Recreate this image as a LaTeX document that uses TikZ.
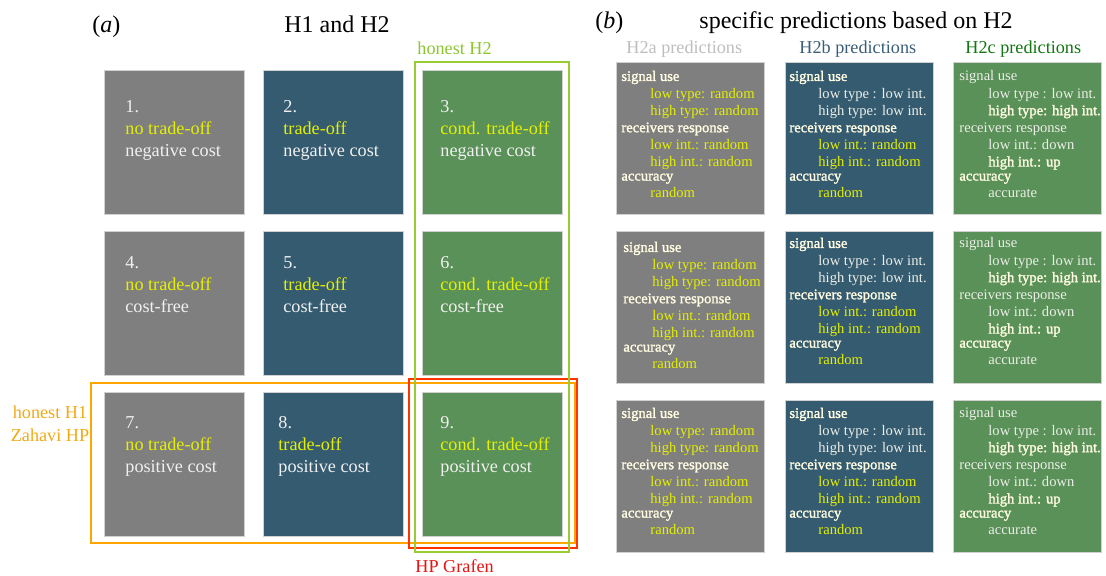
\documentclass[tikz,border=0pt]{standalone}
\usepackage{fontspec}
\setmainfont{Liberation Serif}
\newfontfamily\hb{Liberation Serif}[FakeBold=1.6]

\definecolor{cellgray}{RGB}{127,127,127}
\definecolor{cellblue}{RGB}{53,91,112}
\definecolor{cellgreen}{RGB}{90,145,88}
\definecolor{hlyellow}{RGB}{228,240,0}
\definecolor{cream}{RGB}{255,252,225}
\definecolor{lighttxt}{RGB}{236,238,232}
\definecolor{frgreen}{RGB}{153,204,51}
\definecolor{frorange}{RGB}{255,165,0}
\definecolor{frred}{RGB}{255,51,0}
\definecolor{lbgreen}{RGB}{140,198,50}
\definecolor{lborange}{RGB}{240,170,20}
\definecolor{lbred}{RGB}{232,20,20}
\definecolor{hdgray}{RGB}{190,190,190}
\definecolor{hdblue}{RGB}{58,94,118}
\definecolor{hdgreen}{RGB}{18,118,18}

\newcommand{\predind}{\hspace*{14.5pt}}
\newcommand{\predA}{%
\textcolor{cream}{\hb signal use}\\
\predind\textcolor{hlyellow}{low type: random}\\
\predind\textcolor{hlyellow}{high type: random}\\
\textcolor{cream}{\hb receivers response}\\
\predind\textcolor{hlyellow}{low int.: random}\\
\predind\textcolor{hlyellow}{high int.: random}\\[-1.5pt]
\textcolor{cream}{\hb accuracy}\\
\predind\textcolor{hlyellow}{random}}
\newcommand{\predB}{%
\textcolor{cream}{\hb signal use}\\
\predind\textcolor{lighttxt}{low type : low int.}\\
\predind\textcolor{lighttxt}{high type: low int.}\\
\textcolor{cream}{\hb receivers response}\\
\predind\textcolor{hlyellow}{low int.: random}\\
\predind\textcolor{hlyellow}{high int.: random}\\[-1.5pt]
\textcolor{cream}{\hb accuracy}\\
\predind\textcolor{hlyellow}{random}}
\newcommand{\predC}{%
\textcolor{lighttxt}{signal use}\\
\predind\textcolor{lighttxt}{low type : low int.}\\
\predind\textcolor{cream}{\hb high type: high int.}\\
\textcolor{lighttxt}{receivers response}\\
\predind\textcolor{lighttxt}{low int.: down}\\
\predind\textcolor{cream}{\hb high int.: up}\\[-1.5pt]
\textcolor{cream}{\hb accuracy}\\
\predind\textcolor{lighttxt}{accurate}}

\begin{document}
\begin{tikzpicture}[x=0.5pt, y=-0.5pt,
    cell/.style={anchor=north west, minimum width=70pt, minimum height=72pt, inner sep=0pt, draw=black!18, line width=0.3pt},
    predbox/.style={anchor=north west, minimum width=74pt, minimum height=76pt, inner sep=0pt, draw=black!18, line width=0.3pt},
    celltext/.style={anchor=north west, inner sep=0pt, align=left, text=white!94!black, font=\fontsize{9.1}{11}\selectfont},
    predtext/.style={anchor=north west, inner sep=0pt, align=left, font=\fontsize{7.3}{8.55}\selectfont},
    frame/.style={line width=1pt},
    lab/.style={anchor=base west, inner sep=0pt, font=\fontsize{9.1}{11.5}\selectfont}]
    \useasboundingbox (0,0) rectangle (1106,575);

    \node[anchor=base west, inner sep=0pt, font=\fontsize{12}{14}\selectfont] (pa) at (92,32) {(\textit{a})};
    \node[anchor=base, inner sep=0pt, font=\fontsize{12}{14}\selectfont] (ta) at (337,32) {H1 and H2};
    \node[anchor=base west, inner sep=0pt, font=\fontsize{12}{14}\selectfont] (pb) at (595,28) {(\textit{b})};
    \node[anchor=base west, inner sep=0pt, font=\fontsize{12}{14}\selectfont] (tb) at (699,28) {specific predictions based on H2};

    \node[cell, fill=cellgray] (c1) at (104,70) {};
    \node[cell, fill=cellblue] (c2) at (263,70) {};
    \node[cell, fill=cellgreen] (c3) at (422,70) {};
    \node[cell, fill=cellgray] (c4) at (104,231) {};
    \node[cell, fill=cellblue] (c5) at (263,231) {};
    \node[cell, fill=cellgreen] (c6) at (422,231) {};
    \node[cell, fill=cellgray] (c7) at (104,392) {};
    \node[cell, fill=cellblue] (c8) at (263,392) {};
    \node[cell, fill=cellgreen] (c9) at (422,392) {};

    \node[celltext] (t1) at ([shift={(21,30)}]c1.north west) {1.\\\textcolor{hlyellow}{no trade-off}\\negative cost};
    \node[celltext] (t2) at ([shift={(20,30)}]c2.north west) {2.\\\textcolor{hlyellow}{trade-off}\\negative cost};
    \node[celltext] (t3) at ([shift={(18,30)}]c3.north west) {3.\\\textcolor{hlyellow}{cond. trade-off}\\negative cost};
    \node[celltext] (t4) at ([shift={(21,25)}]c4.north west) {4.\\\textcolor{hlyellow}{no trade-off}\\cost-free};
    \node[celltext] (t5) at ([shift={(20,25)}]c5.north west) {5.\\\textcolor{hlyellow}{trade-off}\\cost-free};
    \node[celltext] (t6) at ([shift={(18,25)}]c6.north west) {6.\\\textcolor{hlyellow}{cond. trade-off}\\cost-free};
    \node[celltext] (t7) at ([shift={(21,24)}]c7.north west) {7.\\\textcolor{hlyellow}{no trade-off}\\positive cost};
    \node[celltext] (t8) at ([shift={(15,24)}]c8.north west) {8.\\\textcolor{hlyellow}{trade-off}\\positive cost};
    \node[celltext] (t9) at ([shift={(18,24)}]c9.north west) {9.\\\textcolor{hlyellow}{cond. trade-off}\\positive cost};

    \draw[frame, frorange] (91,383) rectangle (575,543);
    \draw[frame, frred] (409,379) rectangle (577,548);
    \draw[frame, frgreen] (415,62) rectangle (569,552);

    \node[lab, text=lbgreen] (h2) at (417,54) {honest H2};
    \node[lab, text=lbred] (gr) at (415,572) {HP Grafen};
    \node[anchor=north, inner sep=0pt, align=center, text=lborange, font=\fontsize{9.1}{11.5}\selectfont] (h1) at (50,405.6) {honest H1\\Zahavi HP};

    \node[lab, text=hdgray] (ha) at (626,53) {H2a predictions};
    \node[lab, text=hdblue] (hb) at (799,53) {H2b predictions};
    \node[lab, text=hdgreen] (hc) at (965,53) {H2c predictions};

    \node[predbox, fill=cellgray] (pa1) at (616,62) {};
    \node[predbox, fill=cellblue] (pb1) at (785,62) {};
    \node[predbox, fill=cellgreen] (pc1) at (953,62) {};
    \node[predbox, fill=cellgray] (pa2) at (616,231) {};
    \node[predbox, fill=cellblue] (pb2) at (785,231) {};
    \node[predbox, fill=cellgreen] (pc2) at (953,231) {};
    \node[predbox, fill=cellgray] (pa3) at (616,400) {};
    \node[predbox, fill=cellblue] (pb3) at (785,400) {};
    \node[predbox, fill=cellgreen] (pc3) at (953,400) {};

    \node[predtext] (qa1) at ([shift={(5,8.4)}]pa1.north west) {\predA};
    \node[predtext] (qb1) at ([shift={(4,8.4)}]pb1.north west) {\predB};
    \node[predtext] (qc1) at ([shift={(6,8.4)}]pc1.north west) {\predC};
    \node[predtext] (qa2) at ([shift={(7,10.4)}]pa2.north west) {\predA};
    \node[predtext] (qb2) at ([shift={(4,6.4)}]pb2.north west) {\predB};
    \node[predtext] (qc2) at ([shift={(6,6.4)}]pc2.north west) {\predC};
    \node[predtext] (qa3) at ([shift={(5,7.4)}]pa3.north west) {\predA};
    \node[predtext] (qb3) at ([shift={(4,7.4)}]pb3.north west) {\predB};
    \node[predtext] (qc3) at ([shift={(6,7.4)}]pc3.north west) {\predC};
\end{tikzpicture}
\end{document}
